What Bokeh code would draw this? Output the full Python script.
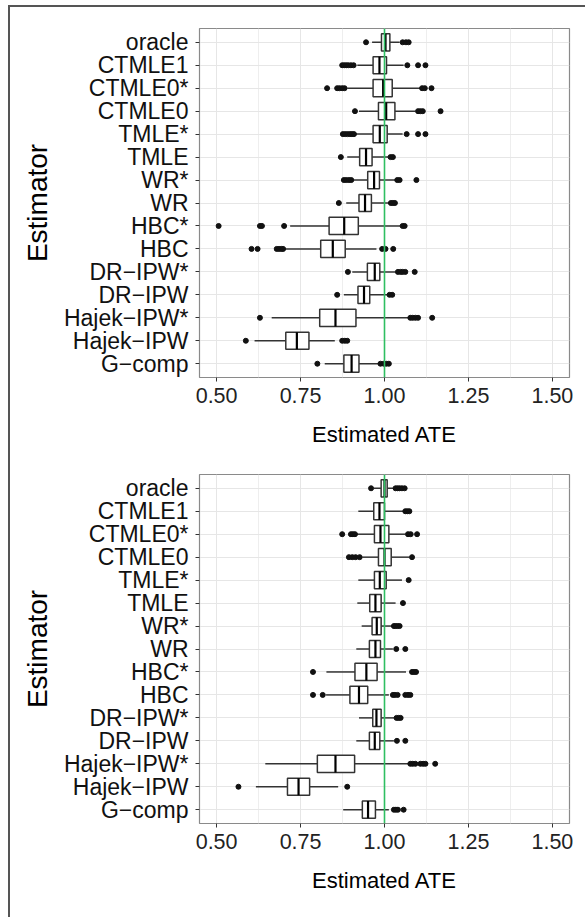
from bokeh.plotting import figure
from bokeh.models import Range1d, FixedTicker, Div, Spacer, ColumnDataSource, Span
from bokeh.layouts import column, row
from bokeh.embed import file_html
from bokeh.resources import INLINE

estimators = ["oracle", "CTMLE1", "CTMLE0*", "CTMLE0", "TMLE*", "TMLE", "WR*", "WR",
              "HBC*", "HBC", "DR\u2212IPW*", "DR\u2212IPW", "Hajek\u2212IPW*", "Hajek\u2212IPW", "G\u2212comp"]

x_ticks = [0.50, 0.75, 1.00, 1.25, 1.50]
x_tick_labels = ["0.50", "0.75", "1.00", "1.25", "1.50"]
x_minor = [0.625, 0.875, 1.125, 1.375]
true_ate = 1.0

# ---- panel 1 (top) ----
p1_wlo = [0.963, 0.919, 0.889, 0.924, 0.914, 0.889, 0.909, 0.886, 0.719, 0.704, 0.904, 0.879, 0.664, 0.613, 0.822]
p1_q1 = [0.991, 0.966, 0.966, 0.982, 0.966, 0.926, 0.950, 0.924, 0.835, 0.810, 0.949, 0.921, 0.807, 0.706, 0.879]
p1_med = [1.003, 0.985, 0.996, 1.005, 0.986, 0.945, 0.969, 0.942, 0.880, 0.846, 0.971, 0.939, 0.854, 0.739, 0.902]
p1_q3 = [1.016, 1.006, 1.023, 1.031, 1.008, 0.963, 0.985, 0.961, 0.922, 0.883, 0.986, 0.956, 0.915, 0.775, 0.924]
p1_whi = [1.045, 1.057, 1.107, 1.092, 1.054, 1.011, 1.033, 1.013, 1.048, 0.976, 1.033, 1.008, 1.070, 0.852, 0.981]
p1_out = [
    [0.945, 1.054, 1.064, 1.072],
    [0.874, 0.880, 0.886, 0.892, 0.900, 0.908, 1.068, 1.100, 1.122],
    [0.829, 0.859, 0.866, 0.874, 0.881, 1.112, 1.120, 1.140],
    [0.912, 1.100, 1.107, 1.114, 1.167],
    [0.876, 0.883, 0.890, 0.897, 0.903, 0.909, 1.066, 1.100, 1.122],
    [0.870, 1.018, 1.025],
    [0.879, 0.886, 0.894, 0.901, 1.038, 1.045, 1.095],
    [0.864, 1.019, 1.025, 1.031],
    [0.506, 0.629, 0.635, 0.701, 1.054, 1.060],
    [0.604, 0.622, 0.679, 0.686, 0.693, 0.698, 0.993, 1.003, 1.026],
    [0.891, 1.040, 1.048, 1.054, 1.062, 1.090],
    [0.859, 1.015, 1.023],
    [0.629, 1.077, 1.084, 1.092, 1.100, 1.142],
    [0.587, 0.874, 0.882, 0.889],
    [0.800, 0.988, 0.998, 1.005, 1.013],
]

# ---- panel 2 (bottom) ----
p2_wlo = [0.968, 0.922, 0.916, 0.934, 0.922, 0.919, 0.932, 0.916, 0.827, 0.826, 0.924, 0.916, 0.645, 0.617, 0.877]
p2_q1 = [0.990, 0.968, 0.970, 0.982, 0.970, 0.956, 0.963, 0.955, 0.912, 0.897, 0.965, 0.955, 0.800, 0.711, 0.934]
p2_med = [1.000, 0.985, 0.988, 1.000, 0.986, 0.973, 0.977, 0.973, 0.946, 0.924, 0.976, 0.971, 0.854, 0.744, 0.951]
p2_q3 = [1.008, 1.000, 1.013, 1.020, 1.005, 0.990, 0.990, 0.988, 0.978, 0.950, 0.990, 0.986, 0.911, 0.777, 0.973]
p2_whi = [1.028, 1.057, 1.062, 1.074, 1.052, 1.033, 1.021, 1.025, 1.064, 1.013, 1.031, 1.028, 1.072, 0.862, 1.013]
p2_out = [
    [0.960, 1.033, 1.039, 1.045, 1.052, 1.060],
    [1.062, 1.068, 1.074],
    [0.874, 0.900, 0.906, 0.912, 1.070, 1.078, 1.097],
    [0.894, 0.904, 0.914, 0.926, 1.082],
    [1.072],
    [1.055],
    [1.028, 1.033, 1.039, 1.045],
    [1.035, 1.062],
    [0.787, 1.082, 1.088, 1.094],
    [0.787, 0.816, 1.025, 1.031, 1.039, 1.062, 1.070, 1.077],
    [1.036, 1.042, 1.048],
    [1.037, 1.062],
    [1.077, 1.084, 1.092, 1.107, 1.115, 1.122, 1.151],
    [0.565, 0.889],
    [1.028, 1.034, 1.040, 1.057],
]

FONT = "Liberation Sans"
DARK = "#333333"
GRID = "#e6e6e6"
BOX_H = 0.75


def make_panel(wlo, q1, med, q3, whi, outs, height, bottom):
    n = len(estimators)
    ypos = [n - i for i in range(n)]
    p = figure(width=575, height=height, output_backend="svg", toolbar_location=None,
               x_range=Range1d(0.449, 1.551), y_range=Range1d(0.4, n + 0.6),
               min_border_left=189, min_border_right=16, min_border_top=21,
               min_border_bottom=bottom, background_fill_color="white",
               border_fill_color="white")
    p.outline_line_color = "#8a8a8a"
    p.outline_line_width = 1.2

    p.xaxis.ticker = FixedTicker(ticks=x_ticks, minor_ticks=x_minor)
    p.xaxis.major_label_overrides = {t: l for t, l in zip(x_ticks, x_tick_labels)}
    p.yaxis.ticker = FixedTicker(ticks=ypos)
    p.yaxis.major_label_overrides = {y: e for y, e in zip(ypos, estimators)}

    for ax in (p.xaxis[0], p.yaxis[0]):
        ax.axis_line_color = None
        ax.major_tick_line_color = DARK
        ax.major_tick_line_width = 1
        ax.major_tick_out = 4
        ax.major_tick_in = 0
        ax.minor_tick_line_color = None
        ax.major_label_text_font = FONT
        ax.axis_label_text_font = FONT
        ax.axis_label_text_font_style = "normal"
        ax.axis_label_text_color = "black"

    p.xaxis.major_label_text_font_size = "21.5px"
    p.xaxis.major_label_text_color = "#222222"
    p.xaxis.major_label_standoff = 6
    p.xaxis.axis_label = "Estimated ATE"
    p.xaxis.axis_label_text_font_size = "22px"
    p.xaxis.axis_label_standoff = 16

    p.yaxis.major_label_text_font_size = "23px"
    p.yaxis.major_label_text_color = "#111111"
    p.yaxis.major_label_standoff = 7
    p.yaxis.axis_label = "Estimator"
    p.yaxis.axis_label_text_font_size = "28px"
    p.yaxis.axis_label_standoff = 8

    p.xgrid.grid_line_color = GRID
    p.xgrid.grid_line_width = 1
    p.xgrid.minor_grid_line_color = "#eeeeee"
    p.xgrid.minor_grid_line_width = 1
    p.ygrid.grid_line_color = GRID
    p.ygrid.grid_line_width = 1

    src = ColumnDataSource(dict(y=ypos, wlo=wlo, q1=q1, med=med, q3=q3, whi=whi,
                                y0=[y - BOX_H / 2 for y in ypos], y1=[y + BOX_H / 2 for y in ypos]))
    p.segment(x0="wlo", y0="y", x1="q1", y1="y", source=src, line_color=DARK, line_width=1.5)
    p.segment(x0="q3", y0="y", x1="whi", y1="y", source=src, line_color=DARK, line_width=1.5)
    p.hbar(y="y", left="q1", right="q3", height=BOX_H, source=src, fill_color="white",
           line_color=DARK, line_width=1.5)
    p.segment(x0="med", y0="y0", x1="med", y1="y1", source=src, line_color="black", line_width=2.2)

    ox, oy = [], []
    for y, vals in zip(ypos, outs):
        for v in vals:
            ox.append(v)
            oy.append(y)
    p.scatter(x=ox, y=oy, size=5, fill_color="#111111", line_color="#111111")

    p.add_layout(Span(location=true_ate, dimension="height", line_color="#2fbf62", line_width=1.6))
    return p


p1 = make_panel(p1_wlo, p1_q1, p1_med, p1_q3, p1_whi, p1_out, 446, 76)
p2 = make_panel(p2_wlo, p2_q1, p2_med, p2_q3, p2_whi, p2_out, 464, 94)

frame_col = "#555555"
top_line = Div(width=575, height=2, margin=0, styles={"background-color": frame_col})
left_line = Div(width=2, height=912, margin=0, styles={"background-color": frame_col})

layout = column(
    Spacer(width=585, height=5, margin=0),
    row(Spacer(width=8, height=912, margin=0), left_line,
        column(top_line, p1, p2, spacing=0, margin=0), spacing=0, margin=0),
    spacing=0, margin=0,
)

open("out.html", "w").write(file_html(layout, INLINE))
